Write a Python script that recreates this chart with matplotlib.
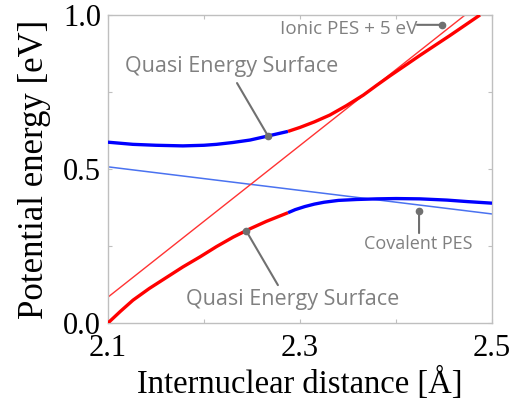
import matplotlib
matplotlib.use("Agg")
import matplotlib.pyplot as plt

# ---- data ----
covalent_x = [2.10, 2.50]
covalent_y = [0.507, 0.354]

ionic_x = [2.10, 2.472]
ionic_y = [0.084, 1.000]

upper_blue_x = [2.100, 2.126, 2.150, 2.178, 2.200, 2.213, 2.230, 2.248, 2.265, 2.2875]
upper_blue_y = [0.587, 0.580, 0.577, 0.575, 0.577, 0.580, 0.586, 0.594, 0.606, 0.622]
upper_red_x = [2.2875, 2.300, 2.315, 2.331, 2.348, 2.366, 2.380, 2.394, 2.410, 2.425,
               2.440, 2.456, 2.472, 2.4875]
upper_red_y = [0.622, 0.635, 0.653, 0.675, 0.705, 0.740, 0.772, 0.803, 0.837, 0.869,
               0.900, 0.933, 0.967, 1.000]

lower_red_x = [2.100, 2.113, 2.126, 2.143, 2.161, 2.178, 2.196, 2.213, 2.2305, 2.248,
               2.265, 2.2875]
lower_red_y = [0.000, 0.038, 0.074, 0.112, 0.148, 0.182, 0.215, 0.248, 0.279, 0.306,
               0.330, 0.358]
lower_blue_x = [2.2875, 2.295, 2.305, 2.315, 2.325, 2.340, 2.359, 2.380, 2.400, 2.425,
                2.453, 2.475, 2.500]
lower_blue_y = [0.358, 0.368, 0.378, 0.386, 0.392, 0.398, 0.401, 0.403, 0.404, 0.403,
                0.399, 0.394, 0.389]

x_ticks = [2.1, 2.2, 2.3, 2.4, 2.5]
x_ticklabels = ["2.1", "", "2.3", "", "2.5"]
y_ticks = [0.0, 0.25, 0.5, 0.75, 1.0]
y_ticklabels = ["0.0", "", "0.5", "", "1.0"]

serif = ["Liberation Serif", "DejaVu Serif"]
sans = ["Open Sans", "DejaVu Sans"]
gray = "#808080"

fig = plt.figure(figsize=(5.16, 4.05), dpi=100)
ax = fig.add_axes([0.2093, 0.2025, 0.7442, 0.7605])

ax.plot(covalent_x, covalent_y, color="#4a72f0", lw=1.1, zorder=2)
ax.plot(ionic_x, ionic_y, color="#ff3333", lw=1.0, zorder=2)
for xs, ys, c in [(upper_blue_x, upper_blue_y, "#0000ff"),
                  (upper_red_x, upper_red_y, "#ff0000"),
                  (lower_red_x, lower_red_y, "#ff0000"),
                  (lower_blue_x, lower_blue_y, "#0000ff")]:
    ax.plot(xs, ys, color=c, lw=2.4, zorder=3, solid_capstyle="butt",
            solid_joinstyle="round")

ax.set_xlim(2.1, 2.5)
ax.set_ylim(0.0, 1.0)
ax.set_xticks(x_ticks)
ax.set_xticklabels(x_ticklabels)
ax.set_yticks(y_ticks)
ax.set_yticklabels(y_ticklabels)
ax.tick_params(direction="in", length=3, width=0.8, color="#c0c0c0",
               top=True, right=True, labelsize=22)
ax.tick_params(axis="x", pad=8)
ax.tick_params(axis="y", pad=5)
for lab in ax.get_xticklabels() + ax.get_yticklabels():
    lab.set_family(serif)
for sp in ax.spines.values():
    sp.set_color("#bfbfbf")
    sp.set_linewidth(1.0)

ax.set_xlabel("Internuclear distance [Å]", family=serif, fontsize=23.5, labelpad=3)
ax.set_ylabel("Potential energy [eV]", family=serif, fontsize=25, labelpad=9)

# annotations
def note(text, pt, start, tpos, size, ha="center"):
    ax.annotate("", xy=pt, xytext=start,
                arrowprops=dict(arrowstyle="-", color="#707070", lw=1.5,
                                shrinkA=0, shrinkB=0), zorder=4)
    ax.plot([pt[0]], [pt[1]], "o", color="#707070", ms=4.5, zorder=5)
    ax.text(tpos[0], tpos[1], text, family=sans, fontsize=size, color=gray,
            ha=ha, va="center", zorder=5)

note("Quasi Energy Surface", (2.2667, 0.607), (2.2344, 0.779), (2.2290, 0.834), 15.5)
note("Quasi Energy Surface", (2.244, 0.299), (2.277, 0.123), (2.2920, 0.075), 15.5)
note("Covalent PES", (2.424, 0.364), (2.424, 0.292), (2.4234, 0.256), 13)
note("Ionic PES + 5 eV", (2.448, 0.968), (2.4219, 0.968), (2.4219, 0.956), 13.6, ha="right")

fig.savefig("out.png", dpi=100)
